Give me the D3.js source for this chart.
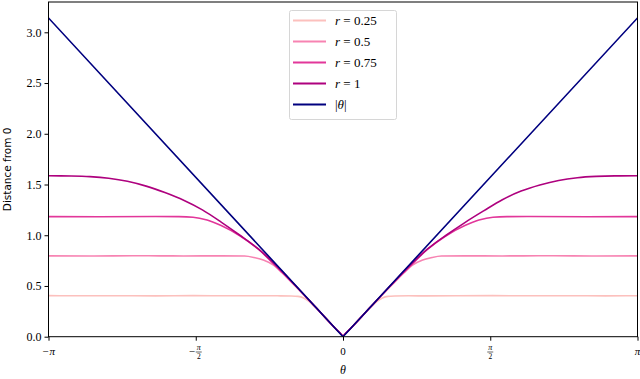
<!DOCTYPE html>
<html>
<head>
<meta charset="utf-8">
<script src="https://cdn.jsdelivr.net/npm/d3@7/dist/d3.min.js"></script>
<style>
  html, body { margin: 0; padding: 0; background: #fff; }
  svg { display: block; }
</style>
</head>
<body>
<svg id="chart" width="640" height="379"></svg>
<script>
// ---------------- data ----------------
const seriesNames = ["r = 0.25", "r = 0.5", "r = 0.75", "r = 1", "|θ|"];

const theta_r025 = [-3.1416, -2.8, -2.4, -2.0, -1.6, -1.2, -0.9, -0.7, -0.55, -0.48, -0.42, -0.36, -0.30, -0.2, -0.1, -0.03, 0, 0.03, 0.1, 0.2, 0.30, 0.36, 0.42, 0.48, 0.55, 0.7, 0.9, 1.2, 1.6, 2.0, 2.4, 2.8, 3.1416];
const dist_r025  = [0.405, 0.403, 0.404, 0.402, 0.405, 0.403, 0.404, 0.403, 0.401, 0.397, 0.381, 0.346, 0.296, 0.2, 0.1, 0.035, 0.01, 0.035, 0.1, 0.2, 0.296, 0.346, 0.381, 0.397, 0.401, 0.403, 0.402, 0.404, 0.405, 0.403, 0.404, 0.402, 0.404];

const theta_r05 = [-3.1416, -2.7, -2.2, -1.7, -1.3, -1.05, -0.95, -0.85, -0.75, -0.65, -0.55, -0.4, -0.2, -0.03, 0, 0.03, 0.2, 0.4, 0.55, 0.65, 0.75, 0.85, 0.95, 1.05, 1.3, 1.7, 2.2, 2.7, 3.1416];
const dist_r05  = [0.797, 0.795, 0.798, 0.796, 0.797, 0.795, 0.781, 0.755, 0.71, 0.63, 0.537, 0.396, 0.2, 0.035, 0.01, 0.035, 0.2, 0.396, 0.537, 0.63, 0.71, 0.755, 0.781, 0.795, 0.797, 0.796, 0.798, 0.795, 0.797];

const theta_r075 = [-3.1416, -2.6, -2.0, -1.75, -1.6, -1.45, -1.3, -1.1, -0.9, -0.7, -0.5, -0.3, -0.03, 0, 0.03, 0.3, 0.5, 0.7, 0.9, 1.1, 1.3, 1.45, 1.6, 1.75, 2.0, 2.6, 3.1416];
const dist_r075  = [1.183, 1.182, 1.184, 1.183, 1.178, 1.15, 1.095, 0.995, 0.86, 0.68, 0.495, 0.298, 0.035, 0.01, 0.035, 0.298, 0.495, 0.68, 0.86, 0.995, 1.095, 1.15, 1.178, 1.183, 1.184, 1.182, 1.183];

const theta_r1 = [-3.1416, -2.9, -2.7, -2.5, -2.3, -2.1, -1.9, -1.7, -1.5, -1.3, -1.1, -0.9, -0.7, -0.5, -0.3, -0.03, 0, 0.03, 0.3, 0.5, 0.7, 0.9, 1.1, 1.3, 1.5, 1.7, 1.9, 2.1, 2.3, 2.5, 2.7, 2.9, 3.1416];
const dist_r1  = [1.586, 1.584, 1.578, 1.562, 1.532, 1.484, 1.42, 1.345, 1.25, 1.13, 1.0, 0.862, 0.69, 0.497, 0.299, 0.035, 0.01, 0.035, 0.299, 0.497, 0.69, 0.862, 1.0, 1.125, 1.24, 1.35, 1.435, 1.495, 1.54, 1.567, 1.58, 1.585, 1.586];

const theta_abs = [-3.1416, 0, 3.1416];
const dist_abs  = [3.1416, 0, 3.1416];

const xTickValues = [-Math.PI, -Math.PI / 2, 0, Math.PI / 2, Math.PI];
const xTickLabels = ["−π", "−π/2", "0", "π/2", "π"];
const yTickValues = [0, 0.5, 1.0, 1.5, 2.0, 2.5, 3.0];

const colors = ["#fcc0bd", "#f783b2", "#e2379a", "#ae017e", "#00007f"];

// ---------------- layout ----------------
const svg = d3.select("#chart");
const L = 48.5, R = 637.5, T = 2, B = 336.7;

const x = d3.scaleLinear().domain([-Math.PI, Math.PI]).range([L, R]);
const y = d3.scaleLinear().domain([0, Math.PI * 1.05]).range([B, T]);

const series = [
  { name: seriesNames[0], t: theta_r025, d: dist_r025, c: colors[0], curve: d3.curveMonotoneX },
  { name: seriesNames[1], t: theta_r05,  d: dist_r05,  c: colors[1], curve: d3.curveMonotoneX },
  { name: seriesNames[2], t: theta_r075, d: dist_r075, c: colors[2], curve: d3.curveMonotoneX },
  { name: seriesNames[3], t: theta_r1,   d: dist_r1,   c: colors[3], curve: d3.curveMonotoneX },
  { name: seriesNames[4], t: theta_abs,  d: dist_abs,  c: colors[4], curve: d3.curveLinear }
];

const plot = svg.append("g");
plot.append("defs").append("clipPath").attr("id", "clip")
  .append("rect").attr("x", L).attr("y", T).attr("width", R - L).attr("height", B - T);

const lines = plot.append("g").attr("clip-path", "url(#clip)");
series.forEach(s => {
  const pts = s.t.map((t, i) => [t, s.d[i]]);
  const line = d3.line().x(p => x(p[0])).y(p => y(p[1])).curve(s.curve);
  lines.append("path")
    .attr("d", line(pts))
    .attr("fill", "none")
    .attr("stroke", s.c)
    .attr("stroke-width", 1.6)
    .attr("stroke-linejoin", "round");
});

// frame
svg.append("rect")
  .attr("x", L).attr("y", T).attr("width", R - L).attr("height", B - T)
  .attr("fill", "none").attr("stroke", "#000").attr("stroke-width", 1);

const serif = "'Liberation Serif', 'DejaVu Serif', serif";

// y axis
const yAxis = d3.axisLeft(y).tickValues(yTickValues).tickFormat(d3.format(".1f")).tickSize(4).tickPadding(3);
const yg = svg.append("g").attr("transform", `translate(${L},0)`).call(yAxis);
yg.select(".domain").remove();
yg.selectAll("text").attr("font-family", serif).attr("font-size", 12).attr("fill", "#000");
yg.selectAll("line").attr("stroke", "#000");

// x axis
const xAxis = d3.axisBottom(x).tickValues(xTickValues).tickFormat("").tickSize(4);
const xg = svg.append("g").attr("transform", `translate(0,${B})`).call(xAxis);
xg.select(".domain").remove();
xg.selectAll("line").attr("stroke", "#000");

xTickValues.forEach((v, i) => {
  const lab = xTickLabels[i];
  const cx = x(v);
  const g = svg.append("g").attr("transform", `translate(${cx},0)`);
  if (lab.includes("/")) {
    const neg = lab.startsWith("−");
    const parts = lab.replace("−", "").split("/");
    const fx = neg ? 3 : 0;
    if (neg) {
      g.append("text").attr("x", -4).attr("y", 355).attr("text-anchor", "middle")
        .attr("font-family", serif).attr("font-size", 11).text("−");
    }
    g.append("text").attr("x", fx).attr("y", 350).attr("text-anchor", "middle")
      .attr("font-family", serif).attr("font-style", "italic").attr("font-size", 8).text(parts[0]);
    g.append("line").attr("x1", fx - 3).attr("x2", fx + 3).attr("y1", 352).attr("y2", 352)
      .attr("stroke", "#000").attr("stroke-width", 0.6);
    g.append("text").attr("x", fx).attr("y", 359).attr("text-anchor", "middle")
      .attr("font-family", serif).attr("font-size", 7.5).text(parts[1]);
  } else {
    const isPi = lab.includes("π");
    g.append("text").attr("x", 0).attr("y", 355).attr("text-anchor", "middle")
      .attr("font-family", serif).attr("font-size", 11)
      .attr("font-style", isPi ? "italic" : "normal")
      .text(lab);
  }
});

// axis titles
svg.append("text").attr("x", x(0)).attr("y", 374).attr("text-anchor", "middle")
  .attr("font-family", serif).attr("font-style", "italic").attr("font-size", 12).text("θ");
svg.append("text")
  .attr("transform", `translate(11,${(T + B) / 2}) rotate(-90)`)
  .attr("text-anchor", "middle")
  .attr("font-family", "'DejaVu Sans', sans-serif").attr("font-size", 10.5)
  .text("Distance from 0");

// legend
const lg = svg.append("g");
lg.append("rect").attr("x", 289.5).attr("y", 10.5).attr("width", 107).attr("height", 109)
  .attr("rx", 2).attr("fill", "#fff").attr("fill-opacity", 0.85)
  .attr("stroke", "#d6d6d6").attr("stroke-width", 1);
const legendY = [20.5, 41.5, 62.5, 83.5, 104.5];
series.forEach((s, i) => {
  const yy = legendY[i];
  lg.append("line").attr("x1", 293).attr("x2", 326).attr("y1", yy).attr("y2", yy)
    .attr("stroke", s.c).attr("stroke-width", 1.8);
  const t = lg.append("text").attr("x", 335).attr("y", yy + 4.5)
    .attr("font-family", serif).attr("font-size", 13).attr("fill", "#000");
  if (s.name.startsWith("r")) {
    t.append("tspan").attr("font-style", "italic").text("r");
    t.append("tspan").text(" = " + s.name.split("= ")[1]);
  } else {
    t.append("tspan").text("|");
    t.append("tspan").attr("font-style", "italic").text("θ");
    t.append("tspan").text("|");
  }
});
</script>
</body>
</html>
